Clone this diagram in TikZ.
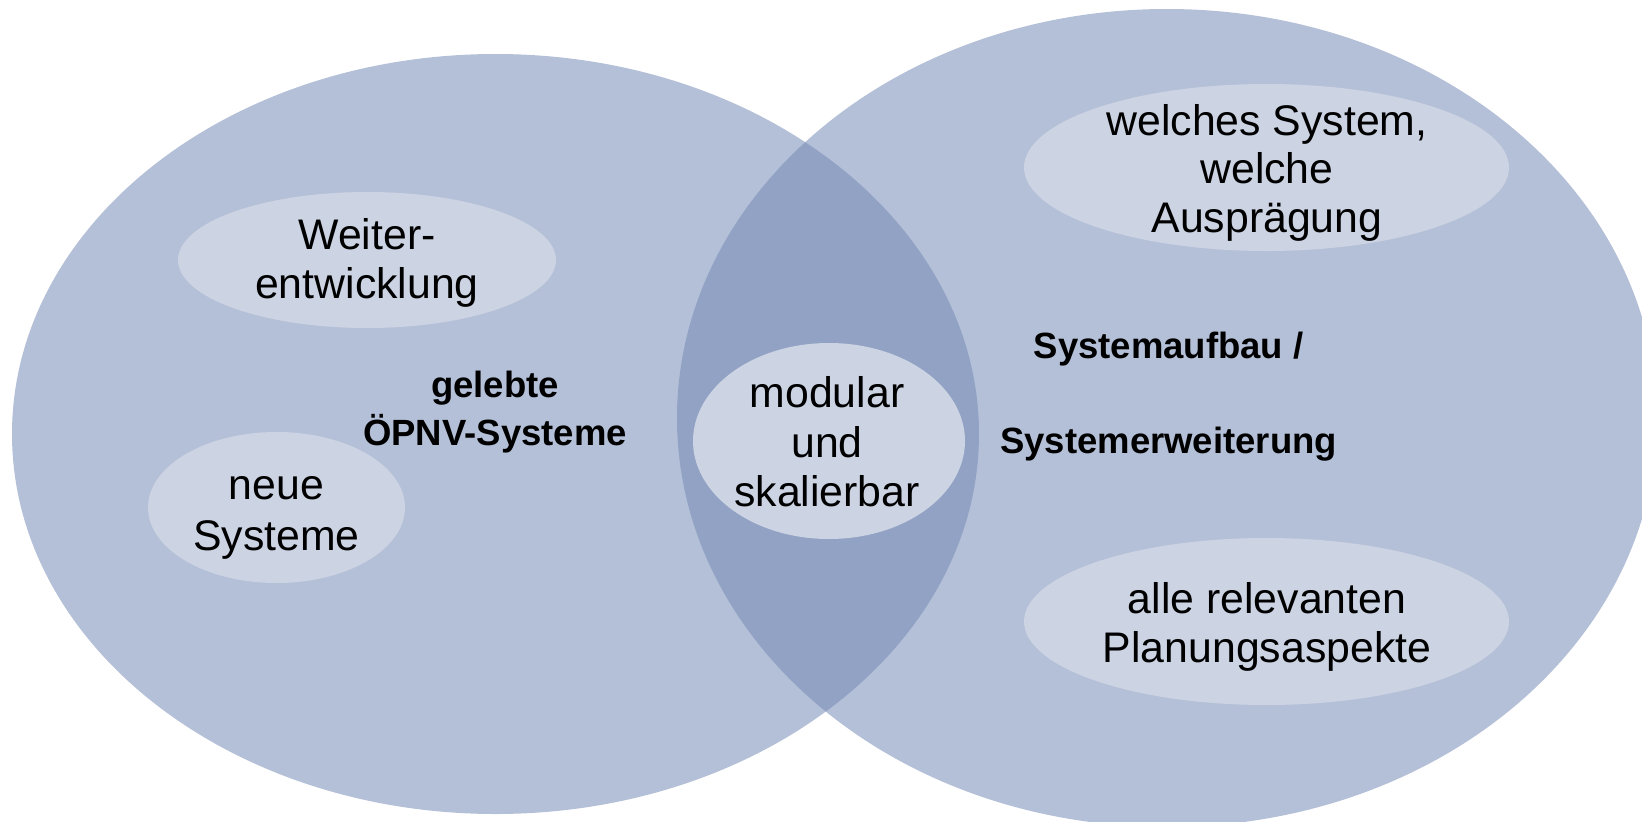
\documentclass[tikz,border=0pt]{standalone}
\usepackage{fontspec}
\setmainfont{Liberation Sans}
\definecolor{vennblue}{RGB}{112,134,178}
\definecolor{bubblefill}{RGB}{204,211,227}

\begin{document}
\begin{tikzpicture}[x=1pt, y=-1pt,
            venn/.style={fill=vennblue, fill opacity=0.52},
            bubble/.style={fill=bubblefill},
            every node/.style={align=center, inner sep=0pt},
            plain/.style={font=\fontsize{42.8}{48.5}\selectfont},
            heavy/.style={font=\fontsize{36.5}{47.5}\selectfont\bfseries}]
        \useasboundingbox (0,0) rectangle (1642,822);
        % the two sets
        \fill[venn] (495.5,434) ellipse [x radius=483.5pt, y radius=380pt];
        \fill[venn] (1167,418) ellipse [x radius=490pt, y radius=409pt];
        % bubbles
        \fill[bubble] (367,260) ellipse [x radius=189pt, y radius=68pt];
        \fill[bubble] (276.5,507.5) ellipse [x radius=128.5pt, y radius=75.5pt];
        \fill[bubble] (829,441) ellipse [x radius=136pt, y radius=98pt];
        \fill[bubble] (1266.5,167.5) ellipse [x radius=242.5pt, y radius=83.5pt];
        \fill[bubble] (1266.5,621.5) ellipse [x radius=242.5pt, y radius=83.5pt];
        % texts
        \node[plain] (weiter) at (367,263) {Weiter-\\entwicklung};
        \node[plain, font=\fontsize{42.8}{51.5}\selectfont] (neue) at (276.5,518) {neue\\Systeme};
        \node[heavy] (gelebt) at (495,412) {gelebte\\ÖPNV-Systeme};
        \node[plain, font=\fontsize{42.8}{49.5}\selectfont] (modular) at (827,442) {modular\\und\\skalierbar};
        \node[plain] (welches) at (1267,172.5) {welches System,\\welche\\Ausprägung};
        \node[heavy] (aufbau) at (1168.6,397) {Systemaufbau /\\[47.5pt]Systemerweiterung};
        \node[plain] (aspekte) at (1267,627) {alle relevanten\\Planungsaspekte};
\end{tikzpicture}
\end{document}
